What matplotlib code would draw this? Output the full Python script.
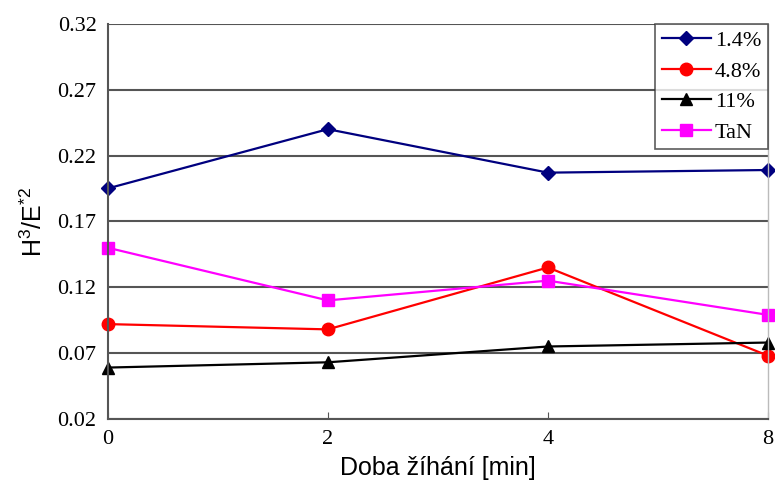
import matplotlib
matplotlib.use("Agg")
import matplotlib.pyplot as plt

plt.rcParams["mathtext.fontset"] = "custom"
plt.rcParams["mathtext.rm"] = "Liberation Sans"
plt.rcParams["mathtext.it"] = "Liberation Sans"

# annealing time [min] and H^3/E*^2 for each film
times = ["0", "2", "4", "8"]
s_14 = [0.195, 0.240, 0.207, 0.209]
s_48 = [0.092, 0.088, 0.135, 0.068]
s_11 = [0.059, 0.063, 0.075, 0.078]
s_tan = [0.150, 0.110, 0.125, 0.099]
labels = ["1.4%", "4.8%", "11%", "TaN"]

yticks = [0.02, 0.07, 0.12, 0.17, 0.22, 0.27, 0.32]

fig = plt.figure(figsize=(7.75, 4.86), dpi=100)
ax = fig.add_axes([0.139, 0.138, 0.852, 0.813])

x = list(range(len(times)))
ax.plot(x, s_14, color="#00007f", marker="D", markersize=7, linewidth=1.6, label=labels[0], clip_on=False)
ax.plot(x, s_48, color="#ff0000", marker="o", markersize=9, linewidth=1.6, label=labels[1], clip_on=False)
ax.plot(x, s_11, color="black", marker="^", markersize=9, linewidth=1.6, label=labels[2], clip_on=False)
ax.plot(x, s_tan, color="#ff00ff", marker="s", markersize=8, linewidth=1.6, label=labels[3], clip_on=False)

ax.set_xlim(0, len(times) - 1)
ax.set_ylim(0.02, 0.32)
ax.set_xticks(x)
ax.set_xticklabels(times, family="Liberation Serif", fontsize=16)
ax.set_yticks(yticks)
ax.set_yticklabels(["%.2f" % v for v in yticks], family="Liberation Serif", fontsize=16)
ax.tick_params(axis="y", length=0, pad=8)
ax.tick_params(axis="x", direction="in", length=5, color="#555555", pad=8)

ax.yaxis.grid(True, color="#555555", linewidth=1.5)
ax.set_axisbelow(True)
for side in ["left", "bottom"]:
    ax.spines[side].set_color("#555555")
    ax.spines[side].set_linewidth(1.5)
ax.spines["top"].set_visible(False)
ax.spines["right"].set_color("#bbbbbb")
ax.spines["right"].set_linewidth(1.0)

ax.set_xlabel("Doba žíhání [min]", family="Liberation Sans", fontsize=18, labelpad=5)
ax.set_ylabel(r"$\mathrm{H^3/E^{*2}}$", fontsize=18, labelpad=8)

leg = ax.legend(loc="upper right", prop={"family": "Liberation Serif", "size": 16},
                frameon=True, fancybox=False, borderaxespad=0, handlelength=2.2,
                handletextpad=0.2, labelspacing=0.45, borderpad=0.3)
leg.get_frame().set_edgecolor("#333333")
leg.get_frame().set_linewidth(1.2)
leg.set_zorder(5)

plt.savefig("out.png", dpi=100)
